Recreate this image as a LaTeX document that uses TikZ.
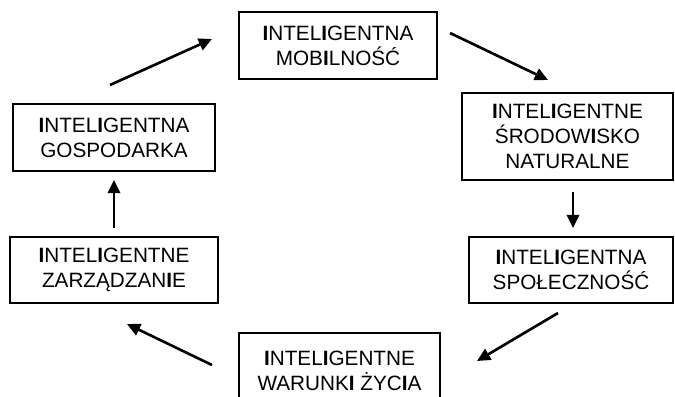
\documentclass[tikz,border=0pt]{standalone}
\usepackage{fontspec}
\setmainfont{Liberation Sans}
\usepackage{tikz}
\usetikzlibrary{arrows.meta}
\newcommand{\bI}{\textbf{I}}

\begin{document}
\begin{tikzpicture}[x=0.02cm, y=-0.02cm,
		box/.style={draw, line width=1.1pt, align=center, inner sep=0pt, font=\fontsize{11.8}{14.2}\selectfont},
		arr/.style={-{Triangle[length=7.5pt,width=7pt]}, line width=1.5pt}]
		\useasboundingbox (0,0) rectangle (675,396);
		\clip (0,0) rectangle (675,396);
		% the six boxes
		\node[box, minimum width=3.96cm, minimum height=1.34cm] (mob) at (338,45.5) {\bI NTEL\bI GENTNA\\MOB\bI LNOŚĆ};
		\node[box, minimum width=4.22cm, minimum height=1.74cm] (srod) at (567.5,136.5) {\bI NTEL\bI GENTNE\\ŚRODOW\bI SKO\\NATURALNE};
		\node[box, minimum width=4.08cm, minimum height=1.32cm] (spol) at (571,270) {\bI NTEL\bI GENTNA\\SPOŁECZNOŚĆ};
		\node[box, minimum width=4.02cm, minimum height=1.52cm] (war) at (339.5,371) {\bI NTEL\bI GENTNE\\WARUNK\bI{} ŻYC\bI A};
		\node[box, minimum width=4.16cm, minimum height=1.32cm] (zarz) at (114,270) {\bI NTEL\bI GENTNE\\ZARZĄDZAN\bI E};
		\node[box, minimum width=4.04cm, minimum height=1.34cm] (gosp) at (114,137.5) {\bI NTEL\bI GENTNA\\GOSPODARKA};
		% arrow ends
		\coordinate (g1) at (110,85);
		\coordinate (m1) at (212,39);
		\coordinate (m2) at (450,33);
		\coordinate (s1) at (548,80);
		\coordinate (s2) at (573,192);
		\coordinate (p1) at (573,228);
		\coordinate (p2) at (558,313);
		\coordinate (w1) at (477,361);
		\coordinate (w2) at (212,365);
		\coordinate (z1) at (127,324);
		% arrows
		\draw[arr] (g1) -- (m1);
		\draw[arr] (m2) -- (s1);
		\draw[arr] (s2) -- (p1);
		\draw[arr] (p2) -- (w1);
		\draw[arr] (w2) -- (z1);
		\draw[arr, shorten <=0.16cm, shorten >=0.16cm] (zarz.north) -- (gosp.south);
	\end{tikzpicture}
\end{document}
